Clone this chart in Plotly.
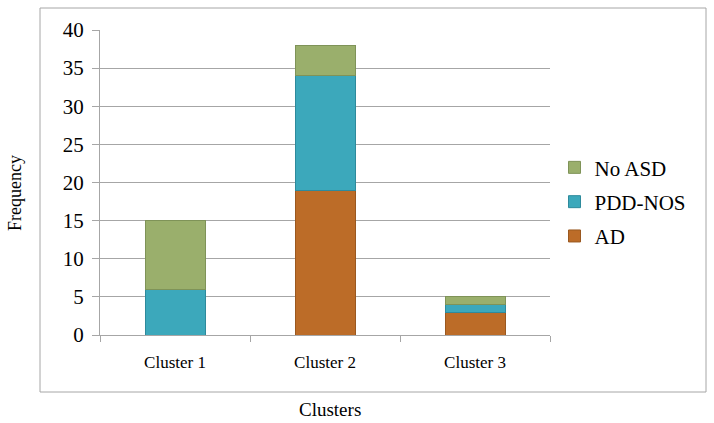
import plotly.graph_objects as go

clusters = ["Cluster 1", "Cluster 2", "Cluster 3"]
ad = [0, 19, 3]
pdd_nos = [6, 15, 1]
no_asd = [9, 4, 1]

serif = "Liberation Serif"

fig = go.Figure()
fig.add_trace(go.Bar(x=clusters, y=ad, name="AD", legendgroup="ad", legendrank=3,
                     marker=dict(color="#BC6C28", line=dict(color="#9A5820", width=1))))
fig.add_trace(go.Bar(x=clusters, y=pdd_nos, name="PDD-NOS", legendgroup="pdd", legendrank=2,
                     marker=dict(color="#3CA8BB", line=dict(color="#2E8A9C", width=1))))
fig.add_trace(go.Bar(x=clusters, y=no_asd, name="No ASD", legendgroup="no", legendrank=1,
                     marker=dict(color="#9AAF6C", line=dict(color="#7F9358", width=1))))

fig.update_layout(
    barmode="stack",
    bargap=0.6,
    width=714, height=423,
    margin=dict(l=100, r=164, t=30, b=88, autoexpand=False),
    plot_bgcolor="white", paper_bgcolor="white",
    font=dict(family=serif, color="black"),
    legend=dict(x=1.01, y=0.437, yanchor="middle", xanchor="left",
                traceorder="grouped", font=dict(size=21, family=serif),
                itemwidth=30, tracegroupgap=4),
    showlegend=True,
)

fig.update_yaxes(
    range=[0, 40], dtick=5,
    showgrid=True, gridcolor="#A6A6A6", gridwidth=1,
    showline=True, linecolor="#A6A6A6",
    ticks="outside", ticklen=7, tickcolor="#A6A6A6",
    tickfont=dict(size=21, family=serif), ticklabelstandoff=4,
    automargin=False, zeroline=False,
)
fig.update_xaxes(
    showline=True, linecolor="#A6A6A6",
    ticks="outside", ticklen=6, tickcolor="#A6A6A6", tickson="boundaries",
    tickfont=dict(size=17, family=serif), ticklabelstandoff=12,
    automargin=False,
)

# axis titles
fig.add_annotation(text="Frequency", xref="paper", yref="paper",
                   x=(15 - 100) / 450, y=(335 - 193) / 305, textangle=-90,
                   xanchor="center", yanchor="middle",
                   showarrow=False, font=dict(size=18, family=serif))
fig.add_annotation(text="Clusters", xref="paper", yref="paper",
                   x=(330 - 100) / 450, y=(335 - 409) / 305,
                   xanchor="center", yanchor="middle",
                   showarrow=False, font=dict(size=19, family=serif))

# outer chart frame
fig.add_shape(type="rect", xref="paper", yref="paper",
              x0=(40 - 100) / 450, x1=(706 - 100) / 450,
              y0=(335 - 392) / 305, y1=(335 - 8) / 305,
              line=dict(color="#A6A6A6", width=1), layer="below")

fig.write_html("out.html", config={"displayModeBar": False},
               post_script="document.body.style.margin='0';")
